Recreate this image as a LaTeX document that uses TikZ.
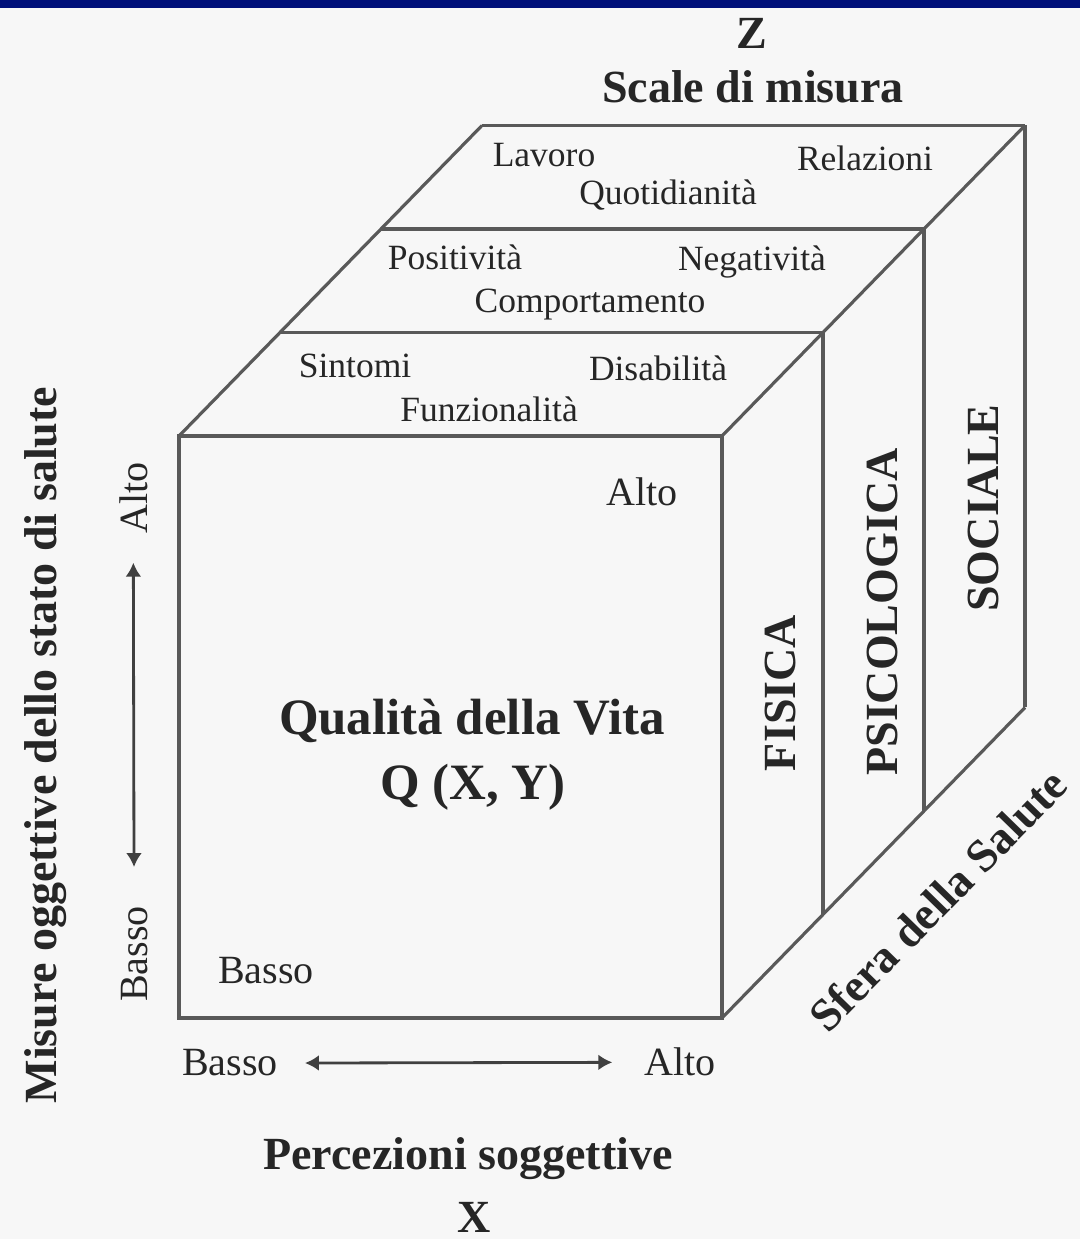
\documentclass[tikz,border=0pt]{standalone}
\usepackage{fontspec}
\setmainfont{Liberation Serif}
\usetikzlibrary{arrows.meta}
\definecolor{bandblue}{RGB}{0,16,122}
\definecolor{paper}{RGB}{247,247,247}
\definecolor{ink}{RGB}{38,38,38}

\begin{document}
\begin{tikzpicture}[x=1cm,y=1cm,line width=.9pt,
  cubeln/.style={draw=black!65,line join=miter},
  lvl/.style={anchor=base,inner sep=1pt,text=ink,font=\fontsize{10.1}{12}\selectfont},
  ends/.style={anchor=base,inner sep=1pt,text=ink,font=\fontsize{11.4}{13}\selectfont},
  axis/.style={anchor=base,inner sep=1pt,text=ink,font=\fontsize{13.1}{15}\selectfont\bfseries},
  qual/.style={anchor=base,inner sep=1pt,text=ink,font=\fontsize{14.5}{17}\selectfont\bfseries},
  dbl/.style={draw=black!75,line width=.8pt,{Latex[length=1.4mm,width=1.6mm]}-{Latex[length=1.4mm,width=1.6mm]}}]
\useasboundingbox (0,0) rectangle (10.80,12.39);
\fill[paper] (0,0) rectangle (10.80,12.39);
\fill[bandblue] (0,12.31) rectangle (10.80,12.39);
% cube
\draw[cubeln] (1.79,2.21) rectangle (7.22,8.03);
\draw[cubeln] (1.79,8.03)--(4.82,11.135);
\draw[cubeln] (7.22,8.03)--(10.25,11.135);
\draw[cubeln] (7.22,2.21)--(10.25,5.315);
\draw[cubeln] (2.80,9.065)--(8.23,9.065);
\draw[cubeln] (3.81,10.10)--(9.24,10.10);
\draw[cubeln] (4.82,11.135)--(10.25,11.135);
\draw[cubeln] (8.23,3.245)--(8.23,9.065);
\draw[cubeln] (9.24,4.28)--(9.24,10.10);
\draw[cubeln] (10.25,5.315)--(10.25,11.135);
% Z axis
\node[axis] (zlet) at (7.52,11.90) {Z};
\node[axis] (scale) at (7.53,11.36) {Scale di misura};
\node[lvl] (lavoro) at (5.44,10.72) {Lavoro};
\node[lvl] (relaz) at (8.65,10.68) {Relazioni};
\node[lvl] (quotid) at (6.68,10.34) {Quotidianità};
\node[lvl] (posit) at (4.55,9.69) {Positività};
\node[lvl] (negat) at (7.52,9.68) {Negatività};
\node[lvl] (comport) at (5.90,9.26) {Comportamento};
\node[lvl] (sintomi) at (3.55,8.61) {Sintomi};
\node[lvl] (disab) at (6.58,8.58) {Disabilità};
\node[lvl] (funz) at (4.89,8.17) {Funzionalità};
% front face
\node[ends] (altoin) at (6.42,7.33) {Alto};
\node[qual] (qvita) at (4.72,5.04) {Qualità della Vita};
\node[qual] (qxy) at (4.73,4.39) {Q (X, Y)};
\node[ends] (bassoin) at (2.66,2.55) {Basso};
% side slabs
\node[axis,rotate=90] (fisica) at (7.95,5.46) {FISICA};
\node[axis,rotate=90] (psico) at (8.97,6.27) {PSICOLOGICA};
\node[axis,rotate=90] (sociale) at (9.98,7.31) {SOCIALE};
\node[axis,anchor=center,rotate=45.7] (sfera) at (9.38,3.39) {Sfera della Salute};
% X axis
\node[ends] (bassox) at (2.30,1.63) {Basso};
\node[ends] (altox) at (6.80,1.63) {Alto};
\draw[dbl,shorten <=0.22cm,shorten >=0.27cm] (bassox.east)--(altox.west);
\node[axis] (percez) at (4.68,0.69) {Percezioni soggettive};
\node[axis] (xlet) at (4.74,0.06) {X};
% Y axis
\node[ends,rotate=90] (bassoy) at (1.47,2.85) {Basso};
\node[ends,rotate=90] (altoy) at (1.47,7.41) {Alto};
\draw[dbl,shorten <=0.34cm,shorten >=0.24cm] (bassoy.east)--(altoy.west);
\node[axis,rotate=90] (misure) at (0.56,4.94) {Misure oggettive dello stato di salute};
\end{tikzpicture}
\end{document}
